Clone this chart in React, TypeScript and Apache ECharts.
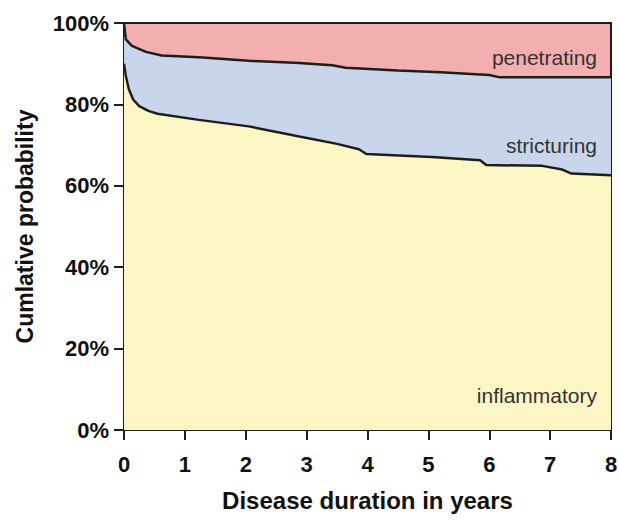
import React, { useEffect, useRef } from "react";
import * as echarts from "echarts";

const xTicks = [0, 1, 2, 3, 4, 5, 6, 7, 8];
const yTicks = [0, 20, 40, 60, 80, 100];

// upper boundary: stricturing / penetrating split (cumulative %)
const upperT = [0, 0.03, 0.13, 0.36, 0.62, 1.23, 2.05, 2.88, 3.42, 3.64, 4.5, 5.2, 6.0, 6.16, 8];
const upperV = [100, 96, 94.4, 92.9, 92.0, 91.6, 90.7, 90.2, 89.6, 89.0, 88.3, 87.9, 87.2, 86.7, 86.7];

// lower boundary: inflammatory / stricturing split (cumulative %)
const lowerT = [0, 0.03, 0.08, 0.15, 0.25, 0.4, 0.55, 1.23, 2.05, 2.88, 3.5, 3.86, 3.98, 5.06, 5.85, 5.95, 6.87, 7.2, 7.35, 8];
const lowerV = [90, 87, 83.7, 81.2, 79.6, 78.4, 77.7, 76.2, 74.6, 72.1, 70.3, 69.0, 67.8, 67.1, 66.3, 65.1, 64.9, 64.0, 63.0, 62.6];

const categoryLabels = ["penetrating", "stricturing", "inflammatory"];

const FONT = "'Liberation Sans', Arial, sans-serif";

export default function App() {
  const ref = useRef<HTMLDivElement>(null);
  useEffect(() => {
    if (!ref.current) return;
    const chart = echarts.init(ref.current, null, { renderer: "svg" });
    const upperData = upperT.map((t, i) => [t, upperV[i]]);
    const lowerData = lowerT.map((t, i) => [t, lowerV[i]]);
    chart.setOption({
      animation: false,
      backgroundColor: "#ffffff",
      grid: {
        left: 124,
        right: 8,
        top: 23,
        bottom: 90,
        outerBoundsMode: "none",
        containLabel: false,
        show: true,
        backgroundColor: "#f3aeb0",
        borderColor: "#1e1e1e",
        borderWidth: 2,
        z: 0,
      },
      xAxis: {
        type: "value",
        min: xTicks[0],
        max: xTicks[xTicks.length - 1],
        interval: 1,
        name: "Disease duration in years",
        nameLocation: "middle",
        nameGap: 58,
        nameTextStyle: { fontFamily: FONT, fontWeight: "bold", fontSize: 24, color: "#111" },
        axisLine: { show: true, onZero: false, lineStyle: { color: "#1e1e1e", width: 2 } },
        axisTick: { show: true, length: 10, lineStyle: { color: "#1e1e1e", width: 2 } },
        axisLabel: { margin: 23, fontFamily: FONT, fontWeight: "bold", fontSize: 22, color: "#111" },
        splitLine: { show: false },
      },
      yAxis: {
        type: "value",
        min: yTicks[0],
        max: yTicks[yTicks.length - 1],
        interval: 20,
        name: "Cumlative probability",
        nameLocation: "middle",
        nameGap: 88,
        nameTextStyle: { fontFamily: FONT, fontWeight: "bold", fontSize: 23, color: "#111" },
        axisLine: { show: true, lineStyle: { color: "#1e1e1e", width: 2 } },
        axisTick: { show: true, length: 10, lineStyle: { color: "#1e1e1e", width: 2 } },
        axisLabel: {
          margin: 15,
          formatter: "{value}%",
          fontFamily: FONT,
          fontWeight: "bold",
          fontSize: 22,
          color: "#111",
        },
        splitLine: { show: false },
      },
      series: [
        {
          name: "upper",
          type: "line",
          data: upperData,
          symbol: "none",
          lineStyle: { color: "#1e1e1e", width: 2.5 },
          areaStyle: { color: "#c9d5ea", opacity: 1, origin: "start" },
          z: 2,
        },
        {
          name: "lower",
          type: "line",
          data: lowerData,
          symbol: "none",
          lineStyle: { color: "#1e1e1e", width: 2.5 },
          areaStyle: { color: "#fcf6c4", opacity: 1, origin: "start" },
          z: 3,
        },
      ],
      graphic: [
        {
          type: "text",
          x: 597,
          y: 57,
          z: 10,
          style: { text: categoryLabels[0], align: "right", verticalAlign: "middle", fontFamily: FONT, fontSize: 21, fill: "#333" },
        },
        {
          type: "text",
          x: 597,
          y: 145,
          z: 10,
          style: { text: categoryLabels[1], align: "right", verticalAlign: "middle", fontFamily: FONT, fontSize: 21, fill: "#333" },
        },
        {
          type: "text",
          x: 597,
          y: 395,
          z: 10,
          style: { text: categoryLabels[2], align: "right", verticalAlign: "middle", fontFamily: FONT, fontSize: 21, fill: "#333" },
        },
      ],
    });
    return () => chart.dispose();
  }, []);
  return (
    <div
      ref={ref}
      style={{ position: "fixed", left: 0, top: 0, width: 619, height: 520 }}
    />
  );
}
